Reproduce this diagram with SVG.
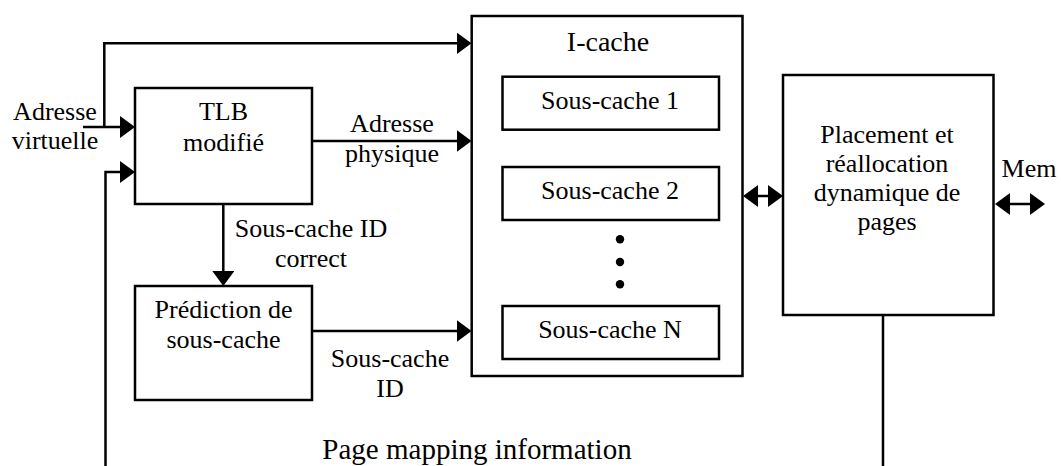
<svg xmlns="http://www.w3.org/2000/svg" width="1061" height="466" viewBox="0 0 1061 466">
<style>
.box{fill:#fff;stroke:#000;stroke-width:2.5}
.ln{fill:none;stroke:#000;stroke-width:2.5}
.t{font-family:"Liberation Serif","Times New Roman",serif;font-size:26px;fill:#000;text-anchor:middle}
.tl{font-size:29px}
.tm{font-size:28px}
</style>
<defs>
<marker id="ah" viewBox="0 0 15 22" markerWidth="15" markerHeight="22" refX="5" refY="11" orient="auto-start-reverse" markerUnits="userSpaceOnUse">
<path d="M0,0 L15,11 L0,22 z" fill="#000"/>
</marker>
</defs>
<rect width="1061" height="466" fill="#fff"/>
<g id="connectors">
<path class="ln" d="M104.3,127 V43.3 H461.5" marker-end="url(#ah)"/>
<path class="ln" d="M83,127 H125" marker-end="url(#ah)"/>
<path class="ln" d="M105.5,466 V172 H125" marker-end="url(#ah)"/>
<path class="ln" d="M312,141 H461.5" marker-end="url(#ah)"/>
<path class="ln" d="M223.3,204 V276" marker-end="url(#ah)"/>
<path class="ln" d="M312,331 H461.5" marker-end="url(#ah)"/>
<path class="ln" d="M753,196 H773" marker-start="url(#ah)" marker-end="url(#ah)"/>
<path class="ln" d="M1005,204 H1035" marker-start="url(#ah)" marker-end="url(#ah)"/>
<path class="ln" d="M883,315 V466"/>
<text class="t" x="55" y="120">Adresse</text>
<text class="t" x="55" y="149">virtuelle</text>
<text class="t" x="392" y="132">Adresse</text>
<text class="t" x="392" y="162">physique</text>
<text class="t" x="311" y="237">Sous-cache ID</text>
<text class="t" x="311" y="267">correct</text>
<text class="t" x="390" y="367">Sous-cache</text>
<text class="t" x="390" y="397">ID</text>
<text class="t" x="1029" y="177">Mem</text>
<text class="t tl" x="477" y="459">Page mapping information</text>
</g>
<g id="tlb">
<rect class="box" x="135" y="88" width="177" height="116"/>
<text class="t" x="223.5" y="120">TLB</text>
<text class="t" x="223.5" y="151">modifié</text>
</g>
<g id="prediction">
<rect class="box" x="135" y="286" width="177" height="114"/>
<text class="t" x="223.5" y="318">Prédiction de</text>
<text class="t" x="223.5" y="348">sous-cache</text>
</g>
<g id="icache">
<rect class="box" x="471.7" y="16" width="270.8" height="360"/>
<text class="t tm" x="608" y="51">I-cache</text>
</g>
<g id="souscache1">
<rect class="box" x="502.5" y="76.7" width="216.5" height="53"/>
<text class="t" x="610" y="108.5">Sous-cache 1</text>
</g>
<g id="souscache2">
<rect class="box" x="502.5" y="167" width="216.5" height="53"/>
<text class="t" x="610" y="199">Sous-cache 2</text>
</g>
<g id="dots">
<circle cx="620" cy="239.3" r="4.2" fill="#000"/>
<circle cx="620" cy="262" r="4.2" fill="#000"/>
<circle cx="620" cy="284.3" r="4.2" fill="#000"/>
</g>
<g id="souscacheN">
<rect class="box" x="502.5" y="306" width="216.5" height="53"/>
<text class="t" x="610" y="338">Sous-cache N</text>
</g>
<g id="placement">
<rect class="box" x="783" y="75" width="210.5" height="240"/>
<text class="t" x="887" y="143">Placement et</text>
<text class="t" x="887" y="172">réallocation</text>
<text class="t" x="887" y="201">dynamique de</text>
<text class="t" x="887" y="230">pages</text>
</g>
</svg>
